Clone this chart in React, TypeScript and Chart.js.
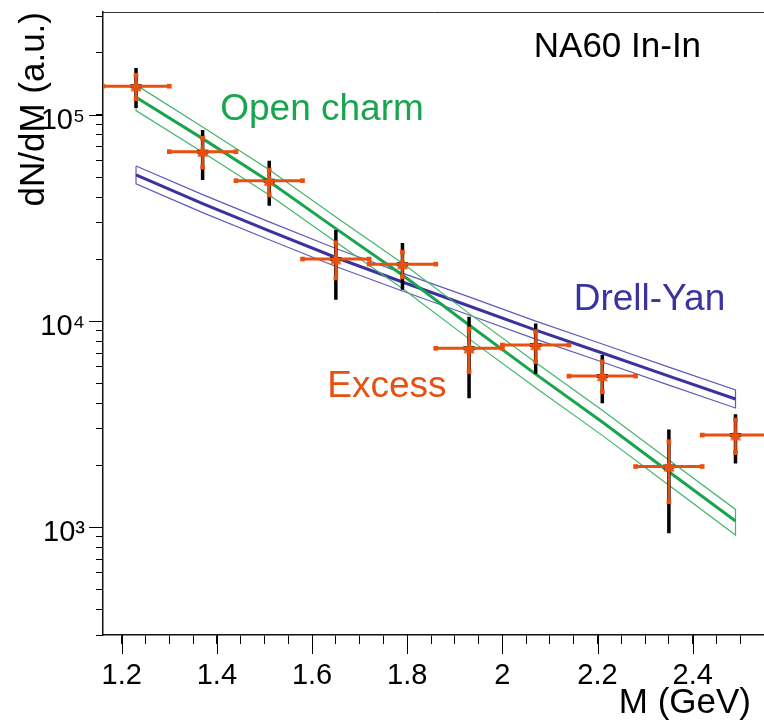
import React, { useEffect, useRef } from 'react';
import { Chart, registerables } from 'chart.js';

Chart.register(...registerables);

// ---- data ----
const massBins = [1.23, 1.37, 1.51, 1.65, 1.79, 1.93, 2.07, 2.21, 2.35, 2.49];
const binHalfWidth = [0.07, 0.07, 0.07, 0.07, 0.07, 0.07, 0.07, 0.07, 0.07, 0.07];
const excessValues = [1.38e5, 6.64e4, 4.8e4, 2.0e4, 1.89e4, 7.38e3, 7.66e3, 5.41e3, 1.97e3, 2.8e3];
const statHigh = [1.56e5, 7.71e4, 5.41e4, 2.4e4, 2.16e4, 9.16e3, 8.88e3, 6.35e3, 2.6e3, 3.31e3];
const statLow = [1.2e5, 5.58e4, 4.09e4, 1.62e4, 1.64e4, 5.68e3, 6.35e3, 4.54e3, 1.33e3, 2.3e3];
const systHigh = [1.69e5, 8.46e4, 6.0e4, 2.77e4, 2.39e4, 1.05e4, 9.75e3, 6.85e3, 2.98e3, 3.53e3];
const systLow = [1.08e5, 4.84e4, 3.63e4, 1.27e4, 1.42e4, 4.22e3, 5.54e3, 3.99e3, 936, 2.04e3];
const systHalfWidth = [0.012, 0.012, 0.012, 0.012, 0.012, 0.012, 0.012, 0.012, 0.012, 0.012];

const curveMass = [1.23, 1.37, 1.51, 1.65, 1.79, 1.93, 2.07, 2.21, 2.35, 2.49];
const openCharm = [1.22e5, 7.68e4, 4.76e4, 2.81e4, 1.674e4, 9.57e3, 5.53e3, 3.24e3, 1.857e3, 1.072e3];
const openCharmHigh = [1.4e5, 8.75e4, 5.43e4, 3.2e4, 1.91e4, 1.09e4, 6.3e3, 3.69e3, 2.12e3, 1.22e3];
const openCharmLow = [1.05e5, 6.6e4, 4.09e4, 2.42e4, 1.44e4, 8.2e3, 4.75e3, 2.79e3, 1.6e3, 917];
const drellYan = [5.12e4, 3.72e4, 2.74e4, 2.035e4, 1.548e4, 1.184e4, 9.05e3, 7.0e3, 5.41e3, 4.19e3];
const drellYanHigh = [5.66e4, 4.11e4, 3.03e4, 2.25e4, 1.71e4, 1.31e4, 1.0e4, 7.74e3, 5.98e3, 4.63e3];
const drellYanLow = [4.63e4, 3.36e4, 2.48e4, 1.84e4, 1.4e4, 1.07e4, 8.18e3, 6.33e3, 4.89e3, 3.79e3];

// ---- axes ----
const xMin = 1.1606;
const xMax = 2.552;
const xTickValues = [1.2, 1.25, 1.3, 1.35, 1.4, 1.45, 1.5, 1.55, 1.6, 1.65, 1.7, 1.75, 1.8, 1.85, 1.9, 1.95, 2.0, 2.05, 2.1, 2.15, 2.2, 2.25, 2.3, 2.35, 2.4, 2.45, 2.5, 2.55];
const xMajorTicks = [1.2, 1.4, 1.6, 1.8, 2.0, 2.2, 2.4];
const xTickLabels = ['1.2', '1.4', '1.6', '1.8', '2', '2.2', '2.4'];
const yMin = 300;
const yMax = 316000;
const yTickValues = [300, 400, 500, 600, 700, 800, 900, 1000, 2000, 3000, 4000, 5000, 6000, 7000, 8000, 9000, 10000, 20000, 30000, 40000, 50000, 60000, 70000, 80000, 90000, 100000, 200000, 300000];
const yMajorTicks = [1000, 10000, 100000];
const yTickLabels = ['10\u00b3', '10\u2074', '10\u2075'];

// ---- text labels ----
const noteTexts = ['NA60 In-In', 'Open charm', 'Drell-Yan', 'Excess'];
const noteX = [2.066, 1.407, 2.15, 1.632];
const noteY = [1.91e5, 9.46e4, 1.132e4, 4.28e3];
const noteColors = ['#000000', '#17a54d', '#3a33a0', '#e8500f'];
const noteSizes = [35, 37, 37, 37];

const FONT = "'Liberation Sans', Arial, Helvetica, sans-serif";
const ORANGE = '#e8500f';
const GREEN = '#17a54d';
const GREEN_THIN = '#45b56a';
const BLUE = '#3b32a0';
const BLUE_THIN = '#625ab8';

// canvas is a little wider than the 764px view; Chart.js keeps a few px of
// point overflow on the right, which then falls just outside the picture
const CANVAS_W = 771;
const CANVAS_H = 721;

const vSeg = (xs: number[], lo: number[], hi: number[]) =>
  xs.flatMap((m, i) => [{ x: m, y: lo[i] }, { x: m, y: hi[i] }, { x: m, y: null }]);
const hSeg = (xs: number[], ys: number[], hw: number[]) =>
  xs.flatMap((m, i) => [{ x: m - hw[i], y: ys[i] }, { x: m + hw[i], y: ys[i] }, { x: m, y: null }]);
const band = (xs: number[], hi: number[], lo: number[]) => [
  ...xs.map((m, i) => ({ x: m, y: hi[i] })),
  ...xs.map((m, i) => ({ x: m, y: lo[i] })).reverse(),
  { x: xs[0], y: hi[0] },
];
const curve = (xs: number[], ys: number[]) => xs.map((m, i) => ({ x: m, y: ys[i] }));

const near = (a: number, b: number) => Math.abs(a - b) < 1e-6;

const zeroPadding = (s: any) => {
  s.paddingTop = 0;
  s.paddingBottom = 0;
  s.paddingLeft = 0;
  s.paddingRight = 0;
};

// marker image: a tall upward triangle (ROOT marker style)
const makeTriangleMarker = () => {
  const c = document.createElement('canvas');
  c.width = 12;
  c.height = 15;
  const g = c.getContext('2d');
  if (g) {
    g.fillStyle = ORANGE;
    g.beginPath();
    g.moveTo(6, 0);
    g.lineTo(11.5, 12.5);
    g.lineTo(0.5, 12.5);
    g.closePath();
    g.fill();
  }
  return c;
};

const majorTicksPlugin = {
  id: 'majorTicks',
  afterDraw(chart: any) {
    const { ctx, chartArea, scales } = chart;
    ctx.save();
    ctx.strokeStyle = '#000';
    ctx.lineWidth = 1;
    xMajorTicks.forEach((v) => {
      const px = Math.round(scales.x.getPixelForValue(v)) + 0.5;
      ctx.beginPath();
      ctx.moveTo(px, chartArea.bottom);
      ctx.lineTo(px, chartArea.bottom + 19);
      ctx.stroke();
    });
    yMajorTicks.forEach((v) => {
      const py = Math.round(scales.y.getPixelForValue(v)) + 0.5;
      ctx.beginPath();
      ctx.moveTo(chartArea.left - 14, py);
      ctx.lineTo(chartArea.left, py);
      ctx.stroke();
    });
    ctx.restore();
  },
};

const notesPlugin = {
  id: 'notes',
  afterDatasetsDraw(chart: any) {
    const { ctx, scales } = chart;
    ctx.save();
    ctx.textAlign = 'left';
    ctx.textBaseline = 'alphabetic';
    noteTexts.forEach((t, i) => {
      ctx.font = `${noteSizes[i]}px ${FONT}`;
      ctx.fillStyle = noteColors[i];
      ctx.fillText(t, scales.x.getPixelForValue(noteX[i]), scales.y.getPixelForValue(noteY[i]));
    });
    ctx.restore();
  },
};

export default function App() {
  const ref = useRef<HTMLCanvasElement>(null);

  useEffect(() => {
    if (!ref.current) return;
    const lineBase = { pointRadius: 0, tension: 0, fill: false, spanGaps: false };
    const triangle = makeTriangleMarker();
    const chart = new Chart(ref.current, {
      type: 'line',
      data: {
        datasets: [
          { ...lineBase, label: 'Excess', data: curve(massBins, excessValues), showLine: false, pointStyle: triangle, pointRadius: 6, pointBackgroundColor: ORANGE, pointBorderColor: ORANGE, pointBorderWidth: 0, order: 0 } as any,
          { ...lineBase, label: 'stat', data: vSeg(massBins, statLow, statHigh), borderColor: ORANGE, borderWidth: 2.5, pointRadius: 3.3, pointStyle: 'rect', pointBackgroundColor: ORANGE, pointBorderWidth: 0, order: 1 },
          { ...lineBase, label: 'bin', data: hSeg(massBins, excessValues, binHalfWidth), borderColor: ORANGE, borderWidth: 3, pointRadius: 3.3, pointStyle: 'rect', pointBackgroundColor: ORANGE, pointBorderWidth: 0, order: 2 },
          { ...lineBase, label: 'systh', data: hSeg(massBins, excessValues, systHalfWidth), borderColor: '#000', borderWidth: 4, order: 3 },
          { ...lineBase, label: 'syst', data: vSeg(massBins, systLow, systHigh), borderColor: '#000', borderWidth: 3.5, order: 3 },
          { ...lineBase, label: 'Open charm', data: curve(curveMass, openCharm), borderColor: GREEN, borderWidth: 3, order: 4 },
          { ...lineBase, label: 'Open charm band', data: band(curveMass, openCharmHigh, openCharmLow), borderColor: GREEN_THIN, borderWidth: 1.2, order: 5 },
          { ...lineBase, label: 'Drell-Yan', data: curve(curveMass, drellYan), borderColor: BLUE, borderWidth: 3, order: 6 },
          { ...lineBase, label: 'Drell-Yan band', data: band(curveMass, drellYanHigh, drellYanLow), borderColor: BLUE_THIN, borderWidth: 1.2, order: 7 },
        ],
      },
      options: {
        animation: false,
        responsive: false,
        maintainAspectRatio: false,
        devicePixelRatio: 1,
        layout: { padding: { top: 12, right: 0, bottom: 0, left: 0 } },
        plugins: { legend: { display: false }, tooltip: { enabled: false }, title: { display: false } },
        events: [],
        scales: {
          x: {
            type: 'linear',
            position: 'bottom',
            min: xMin,
            max: xMax,
            afterBuildTicks: (s: any) => {
              s.ticks = xTickValues.map((v) => ({ value: v }));
            },
            afterFit: (s: any) => {
              s.height = 86;
              zeroPadding(s);
            },
            ticks: {
              autoSkip: false,
              maxRotation: 0,
              minRotation: 0,
              padding: 15,
              color: '#000',
              font: { family: FONT, size: 29 },
              callback: (v: any) => {
                const i = xMajorTicks.findIndex((t) => near(t, Number(v)));
                return i >= 0 ? xTickLabels[i] : '';
              },
            },
            grid: { drawOnChartArea: false, drawTicks: true, tickLength: 9, color: '#000', lineWidth: 1 },
            border: { display: true, color: '#111', width: 1.5 },
            title: {
              display: true,
              text: 'M (GeV)\u2009\u2009',
              align: 'end',
              color: '#000',
              font: { family: FONT, size: 35, lineHeight: 1 },
              padding: { top: 0, bottom: 0 },
            },
          },
          x2: {
            type: 'linear',
            position: 'top',
            min: xMin,
            max: xMax,
            afterFit: (s: any) => {
              s.height = 0;
              zeroPadding(s);
            },
            ticks: { display: false },
            grid: { drawOnChartArea: false, drawTicks: false },
            border: { display: true, color: '#333', width: 1 },
          },
          y: {
            type: 'logarithmic',
            position: 'left',
            min: yMin,
            max: yMax,
            afterBuildTicks: (s: any) => {
              s.ticks = yTickValues.map((v) => ({ value: v }));
            },
            afterFit: (s: any) => {
              s.width = 103;
              zeroPadding(s);
            },
            ticks: {
              autoSkip: false,
              padding: 11,
              labelOffset: 6,
              color: '#000',
              font: { family: FONT, size: 29 },
              callback: (v: any) => {
                const i = yMajorTicks.findIndex((t) => near(t, Number(v)));
                return i >= 0 ? yTickLabels[i] : '';
              },
            },
            grid: { drawOnChartArea: false, drawTicks: true, tickLength: 7, color: '#000', lineWidth: 1 },
            border: { display: true, color: '#111', width: 1.5 },
            title: {
              display: true,
              text: 'dN/dM (a.u.)',
              align: 'end',
              color: '#000',
              font: { family: FONT, size: 35, lineHeight: 1 },
              padding: { top: 17, bottom: 0 },
            },
          },
        },
      } as any,
      plugins: [majorTicksPlugin, notesPlugin],
    });
    return () => chart.destroy();
  }, []);

  return (
    <div style={{ position: 'absolute', left: 0, top: 0, width: 764, height: 721, overflow: 'hidden', background: '#fff' }}>
      <canvas ref={ref} width={CANVAS_W} height={CANVAS_H} style={{ display: 'block', width: CANVAS_W, height: CANVAS_H }} />
    </div>
  );
}
